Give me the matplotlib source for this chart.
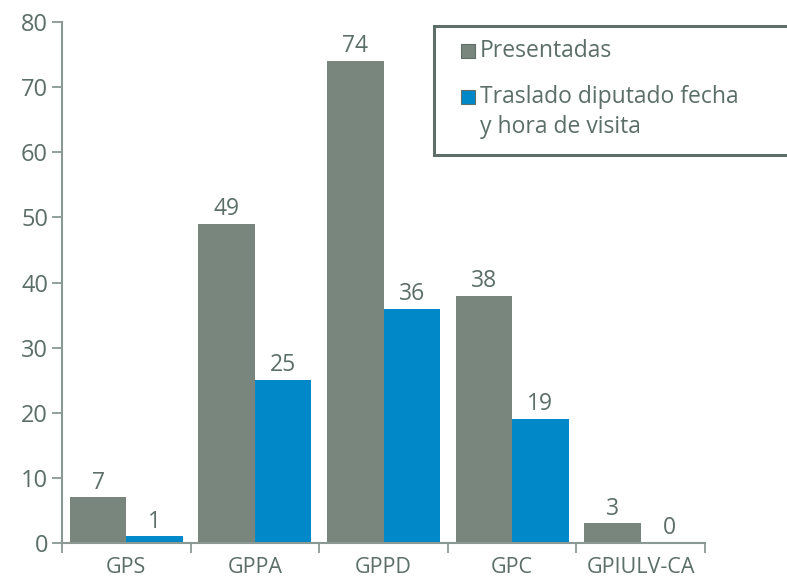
import matplotlib.pyplot as plt
import numpy as np
from matplotlib.patches import Rectangle

grupos = ["GPS", "GPPA", "GPPD", "GPC", "GPIULV-CA"]
presentadas = [7, 49, 74, 38, 3]
traslado = [1, 25, 36, 19, 0]
serie_nombres = ["Presentadas", "Traslado diputado fecha\ny hora de visita"]

gris = "#78867e"
azul = "#0088c8"
texto = "#5b6e67"
eje = "#8a9993"
marco = "#5d6f68"

plt.rcParams["font.family"] = ["Open Sans", "DejaVu Sans"]

W, H = 787, 577
fig = plt.figure(figsize=(W / 100, H / 100), dpi=100)
ax = fig.add_axes([62 / W, 1 - 543 / H, (705 - 62) / W, (543 - 22) / H])

x = np.arange(len(grupos))
w = 0.44
b1 = ax.bar(x - w / 2, presentadas, w, color=gris)
b2 = ax.bar(x + w / 2, traslado, w, color=azul)

for barras, vals in ((b1, presentadas), (b2, traslado)):
    for r, v in zip(barras, vals):
        ax.annotate(str(v), (r.get_x() + r.get_width() / 2, v),
                    xytext=(0, 2), textcoords="offset points",
                    ha="center", va="bottom", fontsize=16.5, color=texto)

ax.set_xlim(-0.5, len(grupos) - 0.5)
ax.set_ylim(0, 80)
ax.set_yticks(range(0, 81, 10))
ax.set_xticks(np.arange(-0.5, len(grupos)), minor=False)
ax.set_xticklabels([])
ax.set_xticks(x, minor=True)
ax.set_xticklabels(grupos, minor=True)
ax.tick_params(axis="x", which="major", length=7, width=1.3, color=eje)
ax.tick_params(axis="x", which="minor", length=0, pad=10, labelsize=15.5, labelcolor=texto)
ax.tick_params(axis="y", length=7, width=1.3, color=eje, labelsize=17, labelcolor=texto, pad=3)

for s in ("top", "right"):
    ax.spines[s].set_visible(False)
for s in ("left", "bottom"):
    ax.spines[s].set_color(eje)
    ax.spines[s].set_linewidth(1.5)

# leyenda dibujada a mano (coordenadas en pixeles de la figura, origen arriba)
def px(xp, yp):
    return xp / W, 1 - yp / H

fig.patches.append(Rectangle(px(434, 155), 400 / W, 129 / H, transform=fig.transFigure,
                             facecolor="white", edgecolor=marco, linewidth=2.2))
for col, yc, nombre in ((gris, 51, serie_nombres[0]), (azul, 97, serie_nombres[1])):
    fig.patches.append(Rectangle(px(461, yc + 7), 14 / W, 14 / H, transform=fig.transFigure,
                                 facecolor=col, edgecolor=marco, linewidth=0.8))
    lineas = nombre.count("\n")
    fig.text(*px(480, yc + 15 * lineas), nombre, ha="left", va="center",
             fontsize=16.5, color=texto, linespacing=1.3)

fig.savefig("out.png", dpi=100)
